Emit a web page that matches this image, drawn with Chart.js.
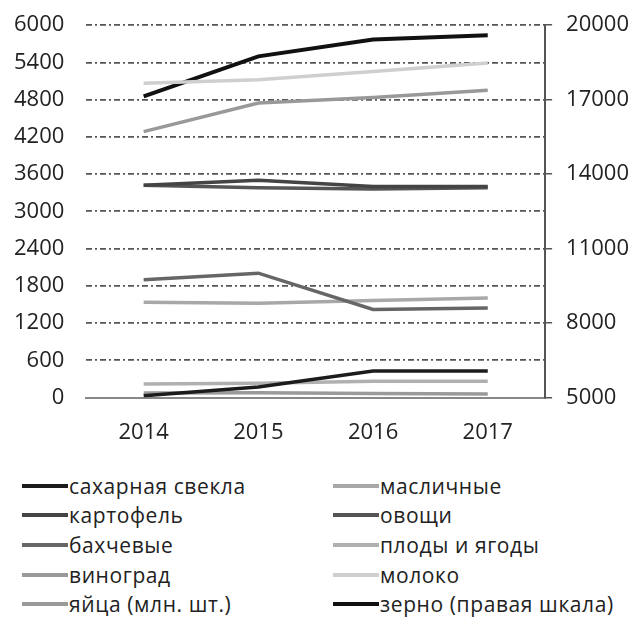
<!DOCTYPE html>
<html>
<head>
<meta charset="utf-8">
<script src="https://cdn.jsdelivr.net/npm/chart.js@4.4.1/dist/chart.umd.min.js"></script>
<style>
    body { margin: 0; background: #fff; }
    #wrap { position: relative; width: 637px; height: 618px; overflow: hidden; }
    #chart { position: absolute; left: 0; top: -10px; }
    .legend { position: absolute; font-family: "Open Sans", sans-serif; font-size: 21px; letter-spacing: 0.6px; color: #222; }
    .item { position: absolute; display: flex; align-items: center; white-space: nowrap; height: 28px; }
    .item .swatch { width: 46px; margin-right: 1px; }
</style>
</head>
<body>
<div id="wrap">
    <canvas id="chart" width="637" height="478"></canvas>
    <div class="legend" id="legend"></div>
</div>
<script>
// years
const years = ['2014', '2015', '2016', '2017'];

// left scale, thousand t (eggs - mln pcs)
const sugarBeet = [30, 170, 430, 430];
const potato = [3420, 3500, 3400, 3400];
const melons = [1900, 2005, 1420, 1445];
const grapes = [75, 80, 65, 60];
const eggs = [4285, 4745, 4835, 4950];
const oilseeds = [1535, 1520, 1565, 1605];
const vegetables = [3420, 3380, 3360, 3380];
const fruits = [220, 230, 265, 265];
const milk = [5065, 5120, 5255, 5390];
// right scale
const grain = [17130, 18745, 19420, 19595];

const leftTicks = [0, 600, 1200, 1800, 2400, 3000, 3600, 4200, 4800, 5400, 6000];
const rightTicks = [5000, 8000, 11000, 14000, 17000, 20000];

const series = [
    {label: 'сахарная свекла', data: sugarBeet, color: '#1c1c1c', width: 3.5},
    {label: 'картофель', data: potato, color: '#444', width: 3.5},
    {label: 'бахчевые', data: melons, color: '#666', width: 3.5},
    {label: 'виноград', data: grapes, color: '#9a9a9a', width: 3.5},
    {label: 'яйца (млн. шт.)', data: eggs, color: '#999', width: 3.5},
    {label: 'масличные', data: oilseeds, color: '#a8a8a8', width: 3.5},
    {label: 'овощи', data: vegetables, color: '#555', width: 3.5},
    {label: 'плоды и ягоды', data: fruits, color: '#b0b0b0', width: 3.5},
    {label: 'молоко', data: milk, color: '#cfcfcf', width: 3.5},
    {label: 'зерно (правая шкала)', data: grain, color: '#111', width: 4, right: true},
];

const font = {family: '"Open Sans", sans-serif', size: 22};
const plain = v => String(v);

new Chart(document.getElementById('chart'), {
    type: 'line',
    data: {
        labels: years,
        datasets: series.map(s => ({
            label: s.label,
            data: s.data,
            borderColor: s.color,
            backgroundColor: s.color,
            borderWidth: s.width,
            pointRadius: 0,
            tension: 0,
            yAxisID: s.right ? 'y1' : 'y'
        }))
    },
    options: {
        responsive: false,
        animation: false,
        layout: {padding: {left: -8, right: -6, top: 0, bottom: 0}},
        plugins: {legend: {display: false}, tooltip: {enabled: false}},
        scales: {
            x: {
                offset: true,
                grid: {drawOnChartArea: false, drawTicks: false},
                border: {display: true, color: '#888', width: 2},
                ticks: {font: font, color: '#222', padding: 22}
            },
            y: {
                min: 0,
                max: 6000,
                afterBuildTicks: axis => { axis.ticks = leftTicks.map(v => ({value: v})); },
                grid: {color: '#555', lineWidth: 1.8, drawTicks: false},
                border: {display: false, dash: [6, 3, 2, 3]},
                ticks: {font: font, color: '#222', padding: 22, callback: plain}
            },
            y1: {
                position: 'right',
                min: 5000,
                max: 20000,
                afterBuildTicks: axis => { axis.ticks = rightTicks.map(v => ({value: v})); },
                grid: {drawOnChartArea: false, drawTicks: true, tickLength: 7, color: '#555', lineWidth: 1.5},
                border: {display: true, color: '#555', width: 2},
                ticks: {font: font, color: '#222', padding: 14, callback: plain}
            }
        }
    }
});

// legend in two columns
const legend = document.getElementById('legend');
const colX = [22, 333];
const rowY = [472, 501, 531, 561, 590];
series.forEach((s, i) => {
    const col = Math.floor(i / 5), row = i % 5;
    const item = document.createElement('div');
    item.className = 'item';
    item.style.left = colX[col] + 'px';
    item.style.top = rowY[row] + 'px';
    const sw = document.createElement('div');
    sw.className = 'swatch';
    sw.style.height = s.width + 'px';
    sw.style.background = s.color;
    const tx = document.createElement('span');
    tx.textContent = s.label;
    item.appendChild(sw);
    item.appendChild(tx);
    legend.appendChild(item);
});
</script>
</body>
</html>
